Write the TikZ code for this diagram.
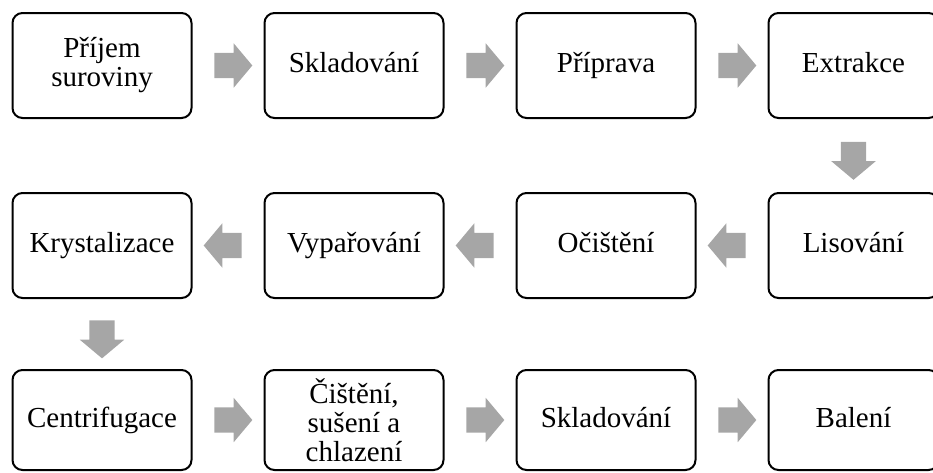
\documentclass[tikz,border=0pt]{standalone}
\usepackage{fontspec}
\setmainfont{Liberation Serif}
\usetikzlibrary{positioning, shapes.arrows, calc}
\definecolor{sipkagray}{RGB}{166,166,166}

\begin{document}
\begin{tikzpicture}[x=1pt, y=1pt, node distance=71pt,
		krok/.style = {draw, line width=2pt, rounded corners=10pt, align=center, minimum width=179pt, minimum height=105pt, font=\fontsize{29}{29}\selectfont},
		jeden/.style = {krok, text height=21pt, text depth=7pt},
		sipka/.style = {single arrow, fill=sipkagray, draw=none, inner xsep=0pt, inner ysep=12.5pt, minimum height=38pt, single arrow head extend=9.5pt, single arrow tip angle=100},
		sipkadolu/.style = {sipka, shape border rotate=270, inner xsep=12.5pt, inner ysep=0pt}]
		\useasboundingbox (0,0) rectangle (933,-472);
		% prvni rada
		\node[krok] (prijem) at (102,-65.5) {Příjem\\suroviny};
		\node[jeden] (sklad1) [right=of prijem] {Skladování};
		\node[jeden] (priprava) [right=of sklad1] {Příprava};
		\node[jeden, minimum width=170pt] (extrakce) [right=of priprava] {Extrakce};
		% druha rada
		\node[jeden, minimum width=170pt] (lisovani) [below=73pt of extrakce] {Lisování};
		\node[jeden] (ocisteni) [left=of lisovani] {Očištění};
		\node[jeden] (vyparovani) [left=of ocisteni] {Vypařování};
		\node[jeden] (krystal) [left=of vyparovani] {Krystalizace};
		% treti rada
		\node[jeden, minimum height=100pt] (centri) [below=70pt of krystal] {Centrifugace};
		\node[krok, minimum height=100pt] (cisteni) [right=of centri] {Čištění,\\sušení a\\chlazení};
		\node[jeden, minimum height=100pt] (sklad2) [right=of cisteni] {Skladování};
		\node[jeden, minimum height=100pt, minimum width=170pt] (baleni) [right=of sklad2] {Balení};
		% sipky
		\node[sipka] (s1) at ($(prijem.east)!.5!(sklad1.west)$) {};
		\node[sipka] (s2) at ($(sklad1.east)!.5!(priprava.west)$) {};
		\node[sipka] (s3) at ($(priprava.east)!.5!(extrakce.west)$) {};
		\node[sipkadolu] (s4) at ($(extrakce.south)!.5!(lisovani.north)$) {};
		\node[sipka, shape border rotate=180] (s5) at ($(lisovani.west)!.5!(ocisteni.east)$) {};
		\node[sipka, shape border rotate=180] (s6) at ($(ocisteni.west)!.5!(vyparovani.east)$) {};
		\node[sipka, shape border rotate=180] (s7) at ($(vyparovani.west)!.5!(krystal.east)$) {};
		\node[sipkadolu] (s8) at ($(krystal.south)!.5!(centri.north)$) {};
		\node[sipka] (s9) at ($(centri.east)!.5!(cisteni.west)$) {};
		\node[sipka] (s10) at ($(cisteni.east)!.5!(sklad2.west)$) {};
		\node[sipka] (s11) at ($(sklad2.east)!.5!(baleni.west)$) {};
	\end{tikzpicture}
\end{document}
